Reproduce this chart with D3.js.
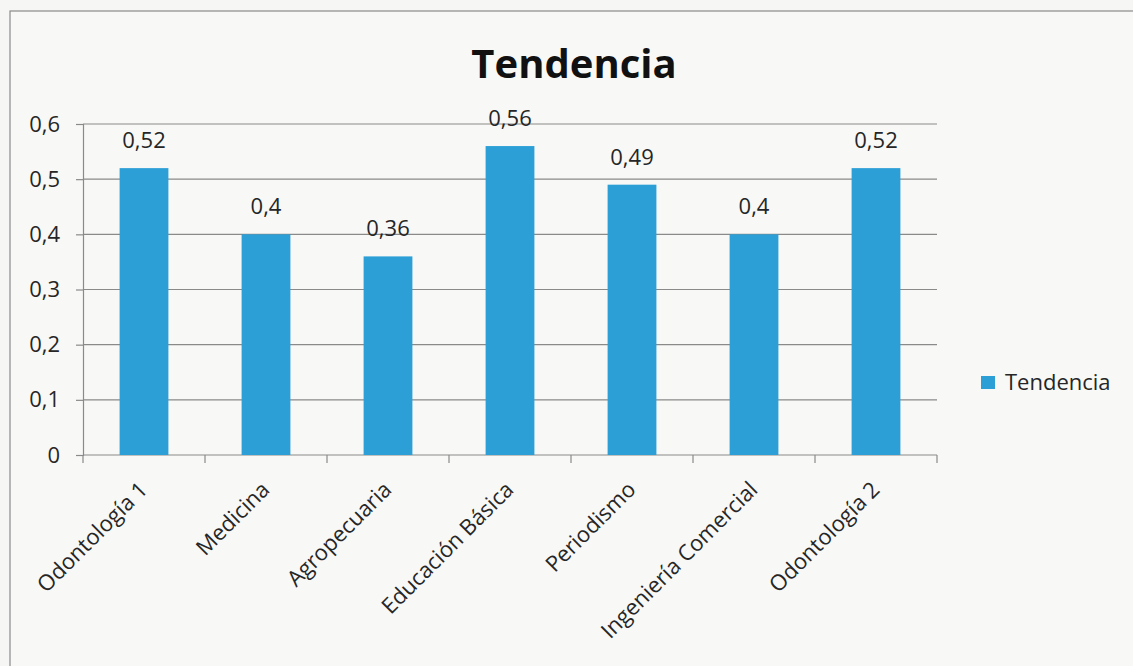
<!DOCTYPE html>
<html><head><meta charset="utf-8">
<script src="https://cdn.jsdelivr.net/npm/d3@7"></script>
<style>body{margin:0;background:#f6f6f5;} svg{display:block;}</style>
</head><body>
<svg id="c" width="1133" height="666"></svg>
<script>
const categories = ["Odontología 1","Medicina","Agropecuaria","Educación Básica","Periodismo","Ingeniería Comercial","Odontología 2"];
const values = [0.52, 0.40, 0.36, 0.56, 0.49, 0.40, 0.52];
const valueLabels = ["0,52","0,4","0,36","0,56","0,49","0,4","0,52"];
const yTicks = [0, 0.1, 0.2, 0.3, 0.4, 0.5, 0.6];
const seriesName = "Tendencia";
const title = "Tendencia";

(function(){
const svg = d3.select("#c");
const font = "'Open Sans', sans-serif";
const barColor = "#2b9fd6";
const txt = "#262626";

svg.append("rect").attr("x",10).attr("y",11).attr("width",1140).attr("height",670)
  .attr("fill","#f8f8f7").attr("stroke","#8a8a8a").attr("stroke-width",1.2);

const pLeft = 83, pRight = 937, pTop = 124, pBottom = 455;
const x = d3.scaleBand().domain(categories).range([pLeft,pRight]).padding(0);
const y = d3.scaleLinear().domain([0,0.6]).range([pBottom,pTop]);

// gridlines
svg.append("g").selectAll("line").data(yTicks.filter(d=>d>0)).join("line")
  .attr("x1",pLeft).attr("x2",pRight).attr("y1",d=>y(d)).attr("y2",d=>y(d))
  .attr("stroke","#8a8a8a").attr("stroke-width",1.2);

// y axis
const yAxis = d3.axisLeft(y).tickValues(yTicks).tickSize(7).tickPadding(16)
  .tickFormat(d=>d===0?"0":d3.format(".1f")(d).replace(".",","));
const gy = svg.append("g").attr("transform",`translate(${pLeft},0)`).call(yAxis);
gy.select(".domain").attr("stroke","#8a8a8a").attr("stroke-width",1.2);
gy.selectAll(".tick line").attr("stroke","#8a8a8a").attr("stroke-width",1.2);
gy.selectAll(".tick text").attr("font-family",font).attr("font-size",22).attr("fill",txt);

// x axis line and ticks at boundaries
svg.append("line").attr("x1",pLeft).attr("x2",pRight).attr("y1",pBottom).attr("y2",pBottom)
  .attr("stroke","#8a8a8a").attr("stroke-width",1.2);
const bounds = categories.map(c=>x(c)).concat([x(categories[categories.length-1])+x.bandwidth()]);
svg.append("g").selectAll("line").data(bounds).join("line")
  .attr("x1",d=>d).attr("x2",d=>d).attr("y1",pBottom).attr("y2",pBottom+8)
  .attr("stroke","#8a8a8a").attr("stroke-width",1.2);

// bars
const bw = x.bandwidth()*0.4;
svg.append("g").selectAll("rect").data(values).join("rect")
  .attr("x",(d,i)=>x(categories[i])+x.bandwidth()/2-bw/2)
  .attr("width",bw)
  .attr("y",d=>y(d)).attr("height",d=>pBottom-y(d))
  .attr("fill",barColor);

// value labels
svg.append("g").selectAll("text").data(values).join("text")
  .attr("x",(d,i)=>x(categories[i])+x.bandwidth()/2)
  .attr("y",d=>y(d)-20)
  .attr("text-anchor","middle").attr("font-family",font).attr("font-size",22).attr("fill",txt)
  .text((d,i)=>valueLabels[i]);

// category labels rotated
svg.append("g").selectAll("text").data(categories).join("text")
  .attr("transform",d=>`translate(${x(d)+x.bandwidth()/2+5},${pBottom+36}) rotate(-45)`)
  .attr("text-anchor","end").attr("font-family",font).attr("font-size",22).attr("fill",txt)
  .text(d=>d);

// title
svg.append("text").attr("x",574).attr("y",78).attr("text-anchor","middle")
  .attr("font-family",font).attr("font-weight","bold").attr("font-size",40).attr("fill","#111")
  .text(title);

// legend
svg.append("rect").attr("x",981).attr("y",376).attr("width",14).attr("height",13).attr("fill",barColor);
svg.append("text").attr("x",1005).attr("y",390)
  .attr("font-family",font).attr("font-size",22).attr("fill",txt).text(seriesName);
})();
</script>
</body></html>
